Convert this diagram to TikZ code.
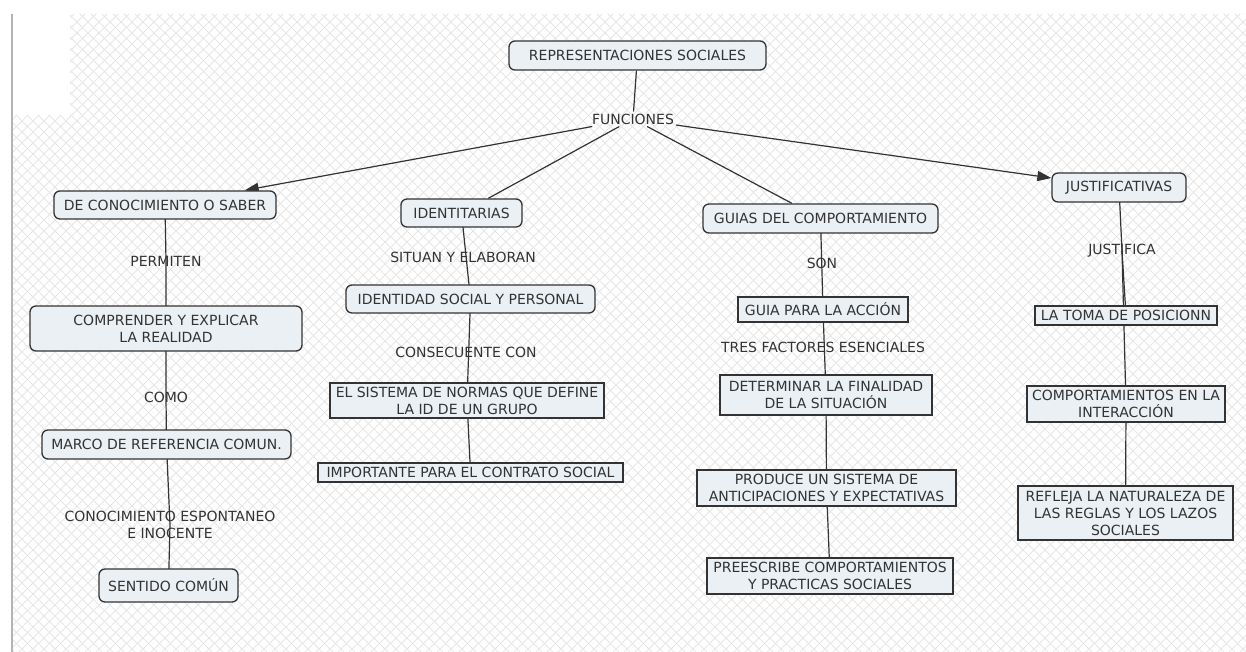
\documentclass[tikz,border=0pt]{standalone}
\usepackage{fontspec}
\setmainfont{DejaVu Sans}
\usetikzlibrary{arrows.meta}
\definecolor{boxfill}{HTML}{EAF0F3}
\definecolor{ink}{HTML}{333333}
\definecolor{hatch}{HTML}{E6E6E6}
\definecolor{rulegray}{HTML}{B4B4B4}
\pgfdeclarelayer{patlayer}
\pgfdeclarelayer{edgelayer}
\pgfsetlayers{patlayer,edgelayer,main}
\begin{document}
\begin{tikzpicture}[x=1pt,y=-1pt,
  txt/.style={font=\fontsize{14}{17}\selectfont, text=ink},
  rbox/.style={txt, draw=ink, line width=1.3pt, fill=boxfill, rounded corners=6pt, inner sep=0pt, align=center},
  sbox/.style={txt, draw=ink, line width=1.3pt, fill=boxfill, inner sep=0pt, align=center},
  lab/.style={txt, inner sep=2pt, align=center},
  conn/.style={draw=ink, line width=1.2pt},
  arr/.style={conn, -{Triangle[length=14pt,width=10pt]}}]
\useasboundingbox (0,0) rectangle (1246,652);

% background and hatch
\begin{pgfonlayer}{patlayer}
\fill[white] (0,0) rectangle (1246,652);
\begin{scope}
\clip (70,14) -- (1246,14) -- (1246,652) -- (13,652) -- (13,115) -- (70,115) -- cycle;
\foreach \c in {-660,-649,...,1910} {
  \draw[hatch, line width=0.9pt] (\c,0) -- ++(660,660);
  \draw[hatch, line width=0.9pt] (\c,0) -- ++(-660,660);
}
\end{scope}
\draw[rulegray, line width=2pt] (12,14) -- (12,652);
\end{pgfonlayer}

% top
\node[rbox, minimum width=257pt, minimum height=29pt] (rep) at (637.5,55.5) {REPRESENTACIONES SOCIALES};
\node[lab] (fun) at (633,119) {FUNCIONES};

% level 1
\node[rbox, minimum width=222pt, minimum height=28pt] (con) at (165,205) {DE CONOCIMIENTO O SABER};
\node[rbox, minimum width=121pt, minimum height=28pt] (ide) at (461.5,213) {IDENTITARIAS};
\node[rbox, minimum width=235pt, minimum height=29pt] (gui) at (820.5,218.5) {GUIAS DEL COMPORTAMIENTO};
\node[rbox, minimum width=134pt, minimum height=29pt] (jus) at (1119,187.5) {JUSTIFICATIVAS};

% column 1
\node[lab] (perm) at (166,261) {PERMITEN};
\node[rbox, minimum width=272pt, minimum height=45pt] (comp) at (166,328.5) {COMPRENDER Y EXPLICAR\\LA REALIDAD};
\node[lab] (como) at (166,397) {COMO};
\node[rbox, minimum width=249pt, minimum height=29pt] (marco) at (166.5,444.5) {MARCO DE REFERENCIA COMUN.};
\node[lab] (conesp) at (170,525) {CONOCIMIENTO ESPONTANEO\\E INOCENTE};
\node[rbox, minimum width=139pt, minimum height=33pt] (sent) at (168.5,585.5) {SENTIDO COMÚN};

% column 2
\node[lab] (sit) at (463,257) {SITUAN Y ELABORAN};
\node[rbox, minimum width=249pt, minimum height=28pt] (ident) at (470.5,299) {IDENTIDAD SOCIAL Y PERSONAL};
\node[lab] (cons) at (466,352) {CONSECUENTE CON};
\node[sbox, minimum width=274pt, minimum height=35pt] (sist) at (467,400.5) {EL SISTEMA DE NORMAS QUE DEFINE\\LA ID DE UN GRUPO};
\node[sbox, minimum width=305pt, minimum height=19pt] (imp) at (470.5,472.5) {IMPORTANTE PARA EL CONTRATO SOCIAL};

% column 3
\node[lab] (son) at (822,263) {SON};
\node[sbox, minimum width=170pt, minimum height=25pt] (guia) at (823,309.5) {GUIA PARA LA ACCIÓN};
\node[lab] (tres) at (823,347) {TRES FACTORES ESENCIALES};
\node[sbox, minimum width=212pt, minimum height=40pt] (det) at (826,395) {DETERMINAR LA FINALIDAD\\DE LA SITUACIÓN};
\node[sbox, minimum width=259pt, minimum height=36pt] (prod) at (826.5,488) {PRODUCE UN SISTEMA DE\\ANTICIPACIONES Y EXPECTATIVAS};
\node[sbox, minimum width=246pt, minimum height=36pt] (pre) at (830,576) {PREESCRIBE COMPORTAMIENTOS\\Y PRACTICAS SOCIALES};

% column 4
\node[lab] (justa) at (1122,251) {JUSTIFICA};
\node[sbox, minimum width=182pt, minimum height=19pt] (toma) at (1126,315.5) {LA TOMA DE POSICIONN};
\node[sbox, minimum width=198pt, minimum height=36pt] (cint) at (1126,404) {COMPORTAMIENTOS EN LA\\INTERACCIÓN};
\node[sbox, minimum width=215pt, minimum height=54pt] (refl) at (1125.5,513) {REFLEJA LA NATURALEZA DE\\LAS REGLAS Y LOS LAZOS\\SOCIALES};

% connectors
\begin{pgfonlayer}{edgelayer}
\draw[conn] (rep) -- (fun);
\draw[arr] (fun) -- (con);
\draw[conn] (fun) -- (ide);
\draw[conn] (fun) -- (gui);
\draw[arr] (fun) -- (jus);

\draw[conn] (con.center) -- (perm.center) -- (comp.center);
\draw[conn] (comp.center) -- (como.center) -- (marco.center);
\draw[conn] (marco.center) -- (conesp.center) -- (sent.center);

\draw[conn] (ide.center) -- (ident.center);
\draw[conn] (ident.center) -- (sist.center);
\draw[conn] (sist.center) -- (imp.center);

\draw[conn] (gui.center) -- (guia.center);
\draw[conn] (guia.center) -- (det.center);
\draw[conn] (det.center) -- (prod.center);
\draw[conn] (prod.center) -- (pre.center);

\draw[conn] (jus.center) -- (justa.center);
\draw[conn] (justa.center) -- (toma.center);
\draw[conn] (justa.center) -- (cint.center);
\draw[conn] (cint.center) -- (refl.center);
\end{pgfonlayer}
\end{tikzpicture}
\end{document}
